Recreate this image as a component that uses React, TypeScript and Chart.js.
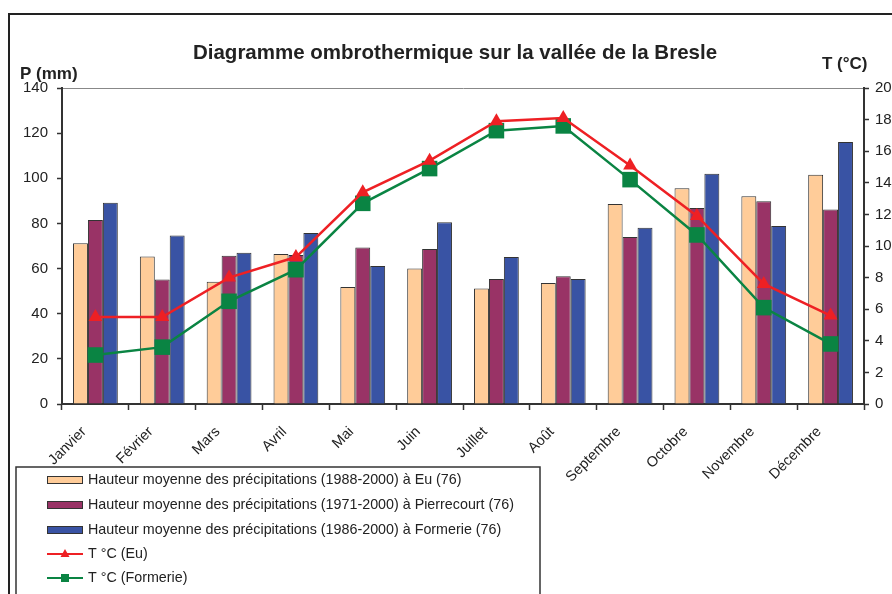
import React, { useEffect, useRef } from "react";
import { Chart, registerables } from "chart.js";

Chart.register(...registerables);

const months = ["Janvier", "Février", "Mars", "Avril", "Mai", "Juin", "Juillet", "Août", "Septembre", "Octobre", "Novembre", "Décembre"];
const precipEu = [71.2, 65.3, 54.2, 66.5, 51.8, 60.0, 51.2, 53.6, 88.6, 95.6, 92.0, 101.6];
const precipPierrecourt = [81.5, 55.2, 65.7, 66.0, 69.3, 68.7, 55.4, 56.6, 74.0, 86.8, 89.8, 86.2];
const precipFormerie = [89.2, 74.6, 67.0, 75.8, 61.1, 80.5, 65.1, 55.4, 78.1, 102.0, 78.9, 116.1];
const tempEu = [5.5, 5.5, 8.0, 9.3, 13.4, 15.4, 17.9, 18.1, 15.1, 11.9, 7.6, 5.6];
const tempFormerie = [3.1, 3.6, 6.5, 8.5, 12.7, 14.9, 17.3, 17.6, 14.2, 10.7, 6.1, 3.8];

const FONT = "'Liberation Sans', Arial, Helvetica, sans-serif";
const C_EU = "#FFCC99";
const C_PIER = "#993366";
const C_FORM = "#3953A4";
const C_RED = "#EE2024";
const C_GREEN = "#0A8443";

const decorPlugin = {
  id: "decor",
  afterDraw(chart: any) {
    const ctx = chart.ctx as CanvasRenderingContext2D;
    const area = chart.chartArea;
    ctx.save();
    // outer frame
    ctx.strokeStyle = "#222";
    ctx.lineWidth = 2;
    ctx.beginPath();
    ctx.moveTo(9, 600);
    ctx.lineTo(9, 14);
    ctx.lineTo(900, 14);
    ctx.stroke();
    // title
    ctx.fillStyle = "#222";
    ctx.font = `bold 20.5px ${FONT}`;
    ctx.textAlign = "center";
    ctx.textBaseline = "middle";
    ctx.fillText("Diagramme ombrothermique sur la vallée de la Bresle", 455, 53);
    // axis titles
    ctx.font = `bold 17px ${FONT}`;
    ctx.textAlign = "left";
    ctx.fillText("P (mm)", 20, 74);
    ctx.fillText("T (°C)", area.right - 42, 64);
    // legend
    const lx = 16, ly = 467;
    ctx.strokeStyle = "#333";
    ctx.lineWidth = 1.5;
    ctx.strokeRect(lx, ly, 524, 140);
    const rows = [480, 505, 530, 554, 578];
    const ds = chart.data.datasets;
    ctx.font = `14.3px ${FONT}`;
    ctx.textBaseline = "middle";
    ds.forEach((d: any, i: number) => {
      const y = rows[i];
      if (d.type === "line") {
        ctx.strokeStyle = d.borderColor;
        ctx.lineWidth = 2;
        ctx.beginPath();
        ctx.moveTo(47, y);
        ctx.lineTo(83, y);
        ctx.stroke();
        ctx.fillStyle = d.borderColor;
        ctx.beginPath();
        if (d.pointStyle === "triangle") {
          ctx.moveTo(65, y - 5);
          ctx.lineTo(69.5, y + 3);
          ctx.lineTo(60.5, y + 3);
          ctx.closePath();
        } else {
          ctx.rect(61, y - 4, 8, 8);
        }
        ctx.fill();
      } else {
        ctx.fillStyle = d.backgroundColor;
        ctx.fillRect(47, y - 4, 36, 8);
        ctx.strokeStyle = "#333";
        ctx.lineWidth = 1;
        ctx.strokeRect(47.5, y - 3.5, 35, 7);
      }
      ctx.fillStyle = "#222";
      ctx.fillText(d.label, 88, y);
    });
    ctx.restore();
  },
};

export default function App() {
  const canvasRef = useRef<HTMLCanvasElement | null>(null);

  useEffect(() => {
    if (!canvasRef.current) return;
    const barCommon = {
      type: "bar" as const,
      yAxisID: "y",
      borderColor: "#333",
      borderWidth: 1,
      categoryPercentage: 0.67,
      barPercentage: 1.0,
      order: 2,
    };
    const chart = new Chart(canvasRef.current, {
      type: "bar",
      data: {
        labels: months,
        datasets: [
          { ...barCommon, label: "Hauteur moyenne des précipitations (1988-2000) à Eu (76)", data: precipEu, backgroundColor: C_EU },
          { ...barCommon, label: "Hauteur moyenne des précipitations (1971-2000) à Pierrecourt (76)", data: precipPierrecourt, backgroundColor: C_PIER },
          { ...barCommon, label: "Hauteur moyenne des précipitations (1986-2000) à Formerie (76)", data: precipFormerie, backgroundColor: C_FORM },
          {
            type: "line" as const,
            label: "T °C (Eu)",
            data: tempEu,
            yAxisID: "y1",
            borderColor: C_RED,
            backgroundColor: C_RED,
            borderWidth: 2.5,
            pointStyle: "triangle",
            pointRadius: 8,
            pointBorderWidth: 0,
            order: 0,
          } as any,
          {
            type: "line" as const,
            label: "T °C (Formerie)",
            data: tempFormerie,
            yAxisID: "y1",
            borderColor: C_GREEN,
            backgroundColor: C_GREEN,
            borderWidth: 2.5,
            pointStyle: "rect",
            pointRadius: 11,
            pointBorderWidth: 0,
            order: 1,
          } as any,
        ],
      },
      options: {
        animation: false,
        responsive: false,
        maintainAspectRatio: false,
        layout: { padding: { top: 88, left: 0, right: 0, bottom: 0 } },
        plugins: { legend: { display: false }, tooltip: { enabled: false }, title: { display: false } },
        scales: {
          x: {
            offset: true,
            grid: { display: true, drawOnChartArea: false, offset: true, tickLength: 6, tickColor: "#333", tickWidth: 1.5 },
            border: { display: true, color: "#333", width: 2 },
            ticks: {
              autoSkip: false,
              maxRotation: 45,
              minRotation: 45,
              padding: 2,
              color: "#222",
              font: { family: FONT, size: 14.5 },
              callback: function (this: any, v: any) {
                return this.getLabelForValue(v) + "    ";
              },
            },
            afterFit: (s: any) => { s.height = 190; },
          },
          y: {
            position: "left",
            min: 0,
            max: 140,
            ticks: { stepSize: 20, color: "#222", padding: 9, font: { family: FONT, size: 15 } },
            grid: {
              drawOnChartArea: true,
              color: (c: any) => (c.tick && c.tick.value === 140 ? "#888" : "rgba(0,0,0,0)"),
              lineWidth: 1,
              tickLength: 5,
              tickColor: "#333",
              tickWidth: 1.5,
            },
            border: { display: true, color: "#333", width: 2 },
            afterFit: (s: any) => { s.width = 62; },
          },
          y1: {
            position: "right",
            min: 0,
            max: 20,
            ticks: { stepSize: 2, color: "#222", padding: 6, font: { family: FONT, size: 15 } },
            grid: { drawOnChartArea: false, tickLength: 5, tickColor: "#333", tickWidth: 1.5 },
            border: { display: true, color: "#333", width: 2 },
            afterFit: (s: any) => { s.width = 28; },
          },
        },
      },
      plugins: [decorPlugin],
    } as any);
    return () => chart.destroy();
  }, []);

  return (
    <div style={{ position: "fixed", left: 0, top: 0, width: 892, height: 594, background: "#fff" }}>
      <canvas ref={canvasRef} width={892} height={594} style={{ width: 892, height: 594, display: "block" }} />
    </div>
  );
}
